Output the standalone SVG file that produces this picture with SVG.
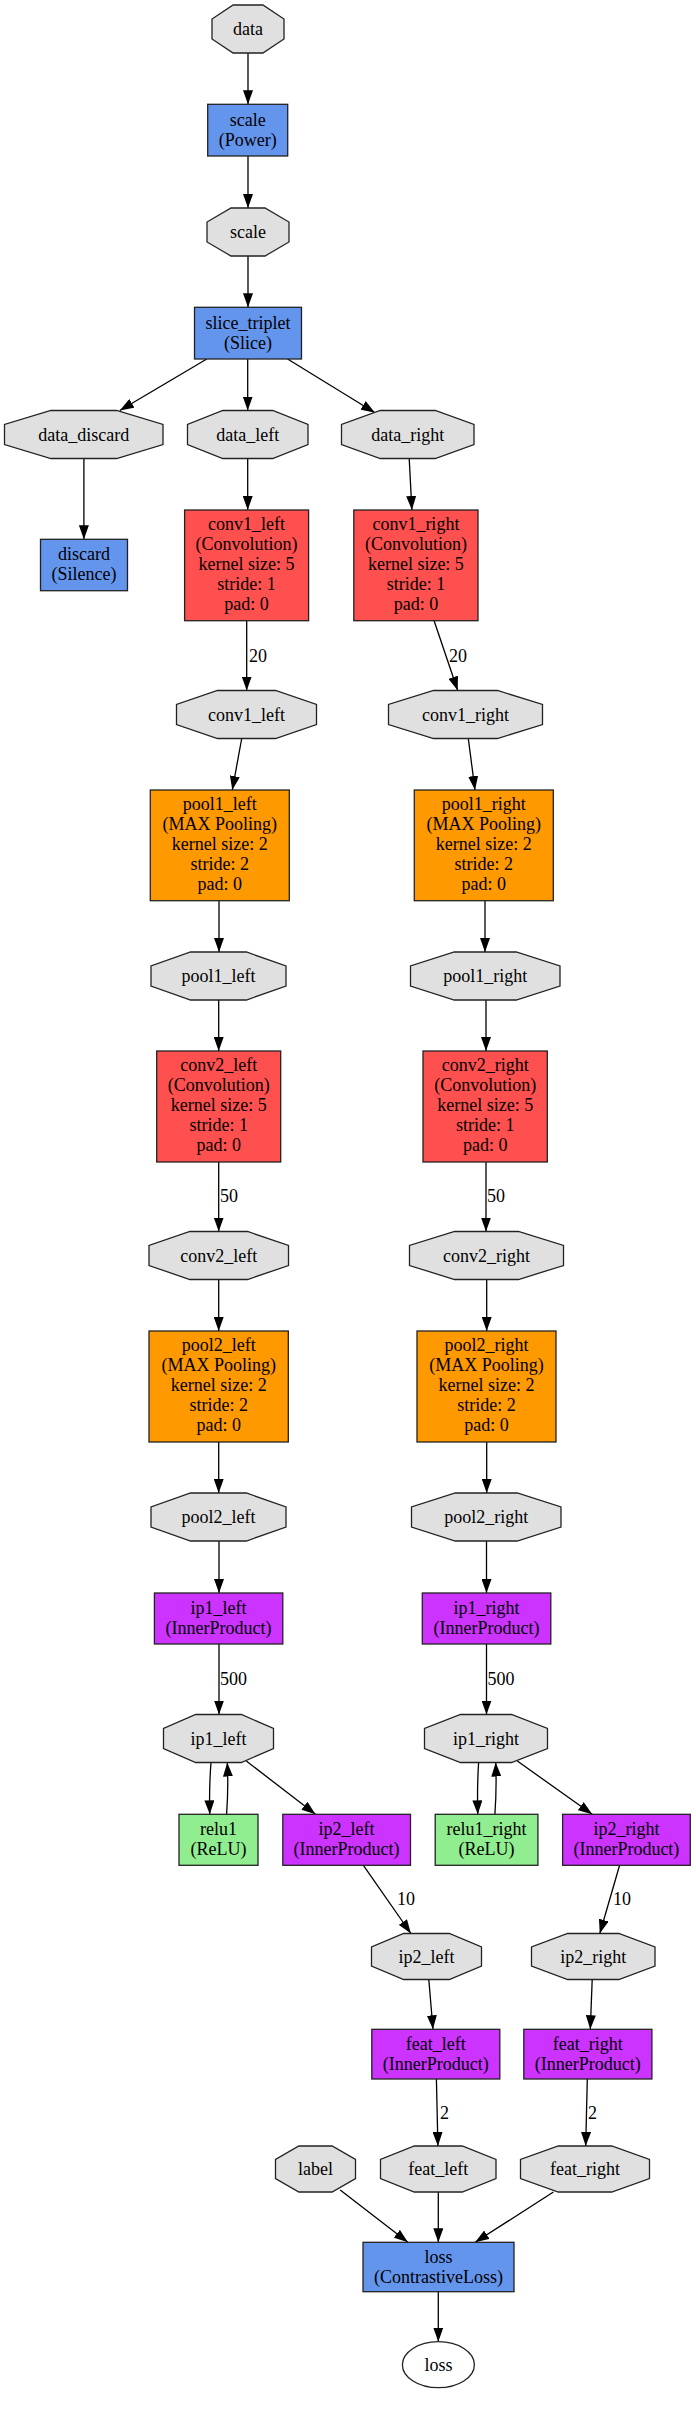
<svg xmlns="http://www.w3.org/2000/svg" width="696" height="2413" viewBox="0 0 696 2413">
<style>
text{font-family:"Liberation Serif","Times New Roman",serif;font-size:18px;fill:#000;text-anchor:middle}
.el{text-anchor:start}
.blob{fill:#e0e0e0;stroke:#222;stroke-width:1.3}
.pw{fill:#6495ed;stroke:#222;stroke-width:1.3}
.cv{fill:#ff5050;stroke:#222;stroke-width:1.3}
.pl{fill:#ff9900;stroke:#222;stroke-width:1.3}
.ip{fill:#cc33ff;stroke:#222;stroke-width:1.3}
.rl{fill:#90ee90;stroke:#222;stroke-width:1.3}
.out{fill:#fff;stroke:#222;stroke-width:1.3}
.e{fill:none;stroke:#000;stroke-width:1.3;marker-end:url(#ah)}
</style>
<defs>
<marker id="ah" markerUnits="userSpaceOnUse" markerWidth="14" markerHeight="10" refX="14" refY="5" orient="auto">
<path d="M0,0 L14,5 L0,10 z" fill="#000"/>
</marker>
</defs>
<g id="edges">
<path class="e" d="M248,53 L248,104.3"/>
<path class="e" d="M248,156 L248,208"/>
<path class="e" d="M248,256 L248,307.3"/>
<path class="e" d="M206.8,359 L119.8,410.5"/>
<path class="e" d="M247.7,359 L247.7,410.5"/>
<path class="e" d="M287.6,359 L375,412.7"/>
<path class="e" d="M83.9,458.5 L83.9,539.3"/>
<path class="e" d="M247.7,458.5 L247.7,510"/>
<path class="e" d="M409.2,458.5 L411.9,510"/>
<path class="e" d="M246.7,620.7 L246.7,690.5"/>
<text class="el" x="249" y="662">20</text>
<path class="e" d="M434.1,620.7 L457.7,690.5"/>
<text class="el" x="449" y="662">20</text>
<path class="e" d="M241.7,738.5 L232.3,790"/>
<path class="e" d="M468.3,738.5 L475,790"/>
<path class="e" d="M219,900.7 L219,952"/>
<path class="e" d="M485,900.7 L485,952"/>
<path class="e" d="M218.7,1000 L218.7,1051"/>
<path class="e" d="M486,1000 L486,1051"/>
<path class="e" d="M218.7,1162 L218.7,1231.5"/>
<text class="el" x="220" y="1202">50</text>
<path class="e" d="M486,1162 L486,1231.5"/>
<text class="el" x="487" y="1202">50</text>
<path class="e" d="M218.7,1279.5 L218.7,1331"/>
<path class="e" d="M486.7,1279.5 L486.7,1331"/>
<path class="e" d="M218.7,1442 L218.7,1493"/>
<path class="e" d="M486.7,1442 L486.7,1493"/>
<path class="e" d="M219,1541 L219,1593"/>
<path class="e" d="M486.5,1541 L486.5,1593"/>
<path class="e" d="M219,1644 L219,1714.5"/>
<text class="el" x="220" y="1685.3">500</text>
<path class="e" d="M486.5,1644 L486.5,1714.5"/>
<text class="el" x="487.5" y="1685.3">500</text>
<path class="e" d="M211,1762.5 Q209,1788 209.8,1814.3"/>
<path class="e" d="M226.6,1814.3 Q228.5,1788 227.3,1762.5"/>
<path class="e" d="M246.3,1761 L315.5,1814.3"/>
<path class="e" d="M478.6,1762.5 Q477,1788 477.8,1814.3"/>
<path class="e" d="M494.9,1814.3 Q496.8,1788 495.7,1762.5"/>
<path class="e" d="M517.3,1761 L592.2,1814.3"/>
<path class="e" d="M363.4,1865.3 L410.9,1933.5"/>
<text class="el" x="397" y="1905.3">10</text>
<path class="e" d="M619.6,1865.3 L599.8,1933.5"/>
<text class="el" x="613" y="1905.3">10</text>
<path class="e" d="M428.8,1979.5 L433,2029.3"/>
<path class="e" d="M592.2,1979.5 L590.3,2029.3"/>
<path class="e" d="M436.4,2079 L437.9,2146"/>
<text class="el" x="440" y="2118.7">2</text>
<path class="e" d="M587.3,2079 L585.7,2146"/>
<text class="el" x="588" y="2118.7">2</text>
<path class="e" d="M340.2,2190 L407.9,2242.3"/>
<path class="e" d="M438.3,2192 L438.3,2242.3"/>
<path class="e" d="M553.4,2192 L475.1,2242.3"/>
<path class="e" d="M438.3,2291.7 L438.3,2341.7"/>
</g>
<g id="n_data"><polygon class="blob" points="233.1,5 262.9,5 284,19 284,39 262.9,53 233.1,53 212,39 212,19"/><text x="248" y="35">data</text></g>
<g id="n_scale_layer"><rect class="pw" x="207.7" y="104.3" width="80" height="51.7"/><text x="247.7" y="125.5">scale</text><text x="247.7" y="145.5">(Power)</text></g>
<g id="n_scale_blob"><polygon class="blob" points="231,208 265,208 289,222 289,242 265,256 231,256 207,242 207,222"/><text x="248" y="238">scale</text></g>
<g id="n_slice_triplet"><rect class="pw" x="194.5" y="307.3" width="107" height="51.7"/><text x="248" y="328.5">slice_triplet</text><text x="248" y="348.5">(Slice)</text></g>
<g id="n_data_discard"><polygon class="blob" points="50.9,410.5 116.6,410.5 163,424.5 163,444.5 116.6,458.5 50.9,458.5 4.5,444.5 4.5,424.5"/><text x="83.7" y="440.5">data_discard</text></g>
<g id="n_data_left"><polygon class="blob" points="222.8,410.5 272.7,410.5 308,424.5 308,444.5 272.7,458.5 222.8,458.5 187.5,444.5 187.5,424.5"/><text x="247.7" y="440.5">data_left</text></g>
<g id="n_data_right"><polygon class="blob" points="380.3,410.5 435.2,410.5 474,424.5 474,444.5 435.2,458.5 380.3,458.5 341.5,444.5 341.5,424.5"/><text x="407.7" y="440.5">data_right</text></g>
<g id="n_discard"><rect class="pw" x="40.5" y="539.3" width="87" height="51.4"/><text x="84" y="560.3">discard</text><text x="84" y="580.3">(Silence)</text></g>
<g id="n_conv1_left_layer"><rect class="cv" x="184.6" y="510" width="124" height="110.7"/><text x="246.6" y="529.8">conv1_left</text><text x="246.6" y="549.8">(Convolution)</text><text x="246.6" y="569.8">kernel size: 5</text><text x="246.6" y="589.8">stride: 1</text><text x="246.6" y="609.8">pad: 0</text></g>
<g id="n_conv1_right_layer"><rect class="cv" x="353.8" y="510" width="124.2" height="110.7"/><text x="415.9" y="529.8">conv1_right</text><text x="415.9" y="549.8">(Convolution)</text><text x="415.9" y="569.8">kernel size: 5</text><text x="415.9" y="589.8">stride: 1</text><text x="415.9" y="609.8">pad: 0</text></g>
<g id="n_conv1_left_blob"><polygon class="blob" points="217.5,690.5 275.5,690.5 316.5,704.5 316.5,724.5 275.5,738.5 217.5,738.5 176.5,724.5 176.5,704.5"/><text x="246.5" y="720.5">conv1_left</text></g>
<g id="n_conv1_right_blob"><polygon class="blob" points="433.6,690.5 497.4,690.5 542.5,704.5 542.5,724.5 497.4,738.5 433.6,738.5 388.5,724.5 388.5,704.5"/><text x="465.5" y="720.5">conv1_right</text></g>
<g id="n_pool1_left_layer"><rect class="pl" x="150.3" y="790" width="139" height="110.7"/><text x="219.8" y="809.8">pool1_left</text><text x="219.8" y="829.8">(MAX Pooling)</text><text x="219.8" y="849.8">kernel size: 2</text><text x="219.8" y="869.8">stride: 2</text><text x="219.8" y="889.8">pad: 0</text></g>
<g id="n_pool1_right_layer"><rect class="pl" x="414.3" y="790" width="139" height="110.7"/><text x="483.8" y="809.8">pool1_right</text><text x="483.8" y="829.8">(MAX Pooling)</text><text x="483.8" y="849.8">kernel size: 2</text><text x="483.8" y="869.8">stride: 2</text><text x="483.8" y="889.8">pad: 0</text></g>
<g id="n_pool1_left_blob"><polygon class="blob" points="190.6,952 246.4,952 286,966 286,986 246.4,1000 190.6,1000 151,986 151,966"/><text x="218.5" y="982">pool1_left</text></g>
<g id="n_pool1_right_blob"><polygon class="blob" points="454.3,952 516.2,952 560,966 560,986 516.2,1000 454.3,1000 410.5,986 410.5,966"/><text x="485.2" y="982">pool1_right</text></g>
<g id="n_conv2_left_layer"><rect class="cv" x="156.7" y="1051" width="124" height="111"/><text x="218.7" y="1070.9">conv2_left</text><text x="218.7" y="1090.9">(Convolution)</text><text x="218.7" y="1110.9">kernel size: 5</text><text x="218.7" y="1130.9">stride: 1</text><text x="218.7" y="1150.9">pad: 0</text></g>
<g id="n_conv2_right_layer"><rect class="cv" x="423" y="1051" width="124.3" height="111"/><text x="485.2" y="1070.9">conv2_right</text><text x="485.2" y="1090.9">(Convolution)</text><text x="485.2" y="1110.9">kernel size: 5</text><text x="485.2" y="1130.9">stride: 1</text><text x="485.2" y="1150.9">pad: 0</text></g>
<g id="n_conv2_left_blob"><polygon class="blob" points="189.9,1231.5 247.6,1231.5 288.5,1245.5 288.5,1265.5 247.6,1279.5 189.9,1279.5 149,1265.5 149,1245.5"/><text x="218.7" y="1261.5">conv2_left</text></g>
<g id="n_conv2_right_blob"><polygon class="blob" points="454.6,1231.5 518.4,1231.5 563.5,1245.5 563.5,1265.5 518.4,1279.5 454.6,1279.5 409.5,1265.5 409.5,1245.5"/><text x="486.5" y="1261.5">conv2_right</text></g>
<g id="n_pool2_left_layer"><rect class="pl" x="149" y="1331" width="139.3" height="111"/><text x="218.7" y="1350.9">pool2_left</text><text x="218.7" y="1370.9">(MAX Pooling)</text><text x="218.7" y="1390.9">kernel size: 2</text><text x="218.7" y="1410.9">stride: 2</text><text x="218.7" y="1430.9">pad: 0</text></g>
<g id="n_pool2_right_layer"><rect class="pl" x="417" y="1331" width="139" height="111"/><text x="486.5" y="1350.9">pool2_right</text><text x="486.5" y="1370.9">(MAX Pooling)</text><text x="486.5" y="1390.9">kernel size: 2</text><text x="486.5" y="1410.9">stride: 2</text><text x="486.5" y="1430.9">pad: 0</text></g>
<g id="n_pool2_left_blob"><polygon class="blob" points="190.6,1493 246.4,1493 286,1507 286,1527 246.4,1541 190.6,1541 151,1527 151,1507"/><text x="218.5" y="1523">pool2_left</text></g>
<g id="n_pool2_right_blob"><polygon class="blob" points="455.3,1493 517.2,1493 561,1507 561,1527 517.2,1541 455.3,1541 411.5,1527 411.5,1507"/><text x="486.3" y="1523">pool2_right</text></g>
<g id="n_ip1_left_layer"><rect class="ip" x="154.4" y="1593" width="128.4" height="51"/><text x="218.6" y="1614">ip1_left</text><text x="218.6" y="1634">(InnerProduct)</text></g>
<g id="n_ip1_right_layer"><rect class="ip" x="422.3" y="1593" width="128.5" height="51"/><text x="486.5" y="1614">ip1_right</text><text x="486.5" y="1634">(InnerProduct)</text></g>
<g id="n_ip1_left_blob"><polygon class="blob" points="195.7,1714.5 241.3,1714.5 273.5,1728.5 273.5,1748.5 241.3,1762.5 195.7,1762.5 163.5,1748.5 163.5,1728.5"/><text x="218.6" y="1744.5">ip1_left</text></g>
<g id="n_ip1_right_blob"><polygon class="blob" points="460.5,1714.5 511.5,1714.5 547.5,1728.5 547.5,1748.5 511.5,1762.5 460.5,1762.5 424.5,1748.5 424.5,1728.5"/><text x="486" y="1744.5">ip1_right</text></g>
<g id="n_relu1"><rect class="rl" x="179" y="1814.3" width="79" height="51"/><text x="218.5" y="1835.2">relu1</text><text x="218.5" y="1855.2">(ReLU)</text></g>
<g id="n_ip2_left_layer"><rect class="ip" x="282.8" y="1814.3" width="127.7" height="51"/><text x="346.6" y="1835.2">ip2_left</text><text x="346.6" y="1855.2">(InnerProduct)</text></g>
<g id="n_relu1_right"><rect class="rl" x="435.2" y="1814.3" width="102.7" height="51"/><text x="486.5" y="1835.2">relu1_right</text><text x="486.5" y="1855.2">(ReLU)</text></g>
<g id="n_ip2_right_layer"><rect class="ip" x="562.6" y="1814.3" width="127.7" height="51"/><text x="626.4" y="1835.2">ip2_right</text><text x="626.4" y="1855.2">(InnerProduct)</text></g>
<g id="n_ip2_left_blob"><polygon class="blob" points="403.7,1933.5 449.3,1933.5 481.5,1947 481.5,1966 449.3,1979.5 403.7,1979.5 371.5,1966 371.5,1947"/><text x="426.5" y="1962.5">ip2_left</text></g>
<g id="n_ip2_right_blob"><polygon class="blob" points="567.7,1933.5 618.8,1933.5 655,1947 655,1966 618.8,1979.5 567.7,1979.5 531.5,1966 531.5,1947"/><text x="593.2" y="1962.5">ip2_right</text></g>
<g id="n_feat_left_layer"><rect class="ip" x="371.8" y="2029.3" width="128" height="49.7"/><text x="435.8" y="2049.7">feat_left</text><text x="435.8" y="2069.7">(InnerProduct)</text></g>
<g id="n_feat_right_layer"><rect class="ip" x="523.8" y="2029.3" width="128.1" height="49.7"/><text x="587.8" y="2049.7">feat_right</text><text x="587.8" y="2069.7">(InnerProduct)</text></g>
<g id="n_label"><polygon class="blob" points="298.9,2146 332.1,2146 355.5,2159.5 355.5,2178.5 332.1,2192 298.9,2192 275.5,2178.5 275.5,2159.5"/><text x="315.5" y="2175">label</text></g>
<g id="n_feat_left_blob"><polygon class="blob" points="414.3,2146 462.2,2146 496,2159.5 496,2178.5 462.2,2192 414.3,2192 380.5,2178.5 380.5,2159.5"/><text x="438.3" y="2175">feat_left</text></g>
<g id="n_feat_right_blob"><polygon class="blob" points="558.3,2146 611.7,2146 649.5,2159.5 649.5,2178.5 611.7,2192 558.3,2192 520.5,2178.5 520.5,2159.5"/><text x="585" y="2175">feat_right</text></g>
<g id="n_loss_layer"><rect class="pw" x="363" y="2242.3" width="151" height="49.4"/><text x="438.5" y="2262.5">loss</text><text x="438.5" y="2282.5">(ContrastiveLoss)</text></g>
<g id="n_loss_blob"><ellipse class="out" cx="438.4" cy="2364.7" rx="36" ry="23"/><text x="438.4" y="2370.7">loss</text></g>
</svg>
